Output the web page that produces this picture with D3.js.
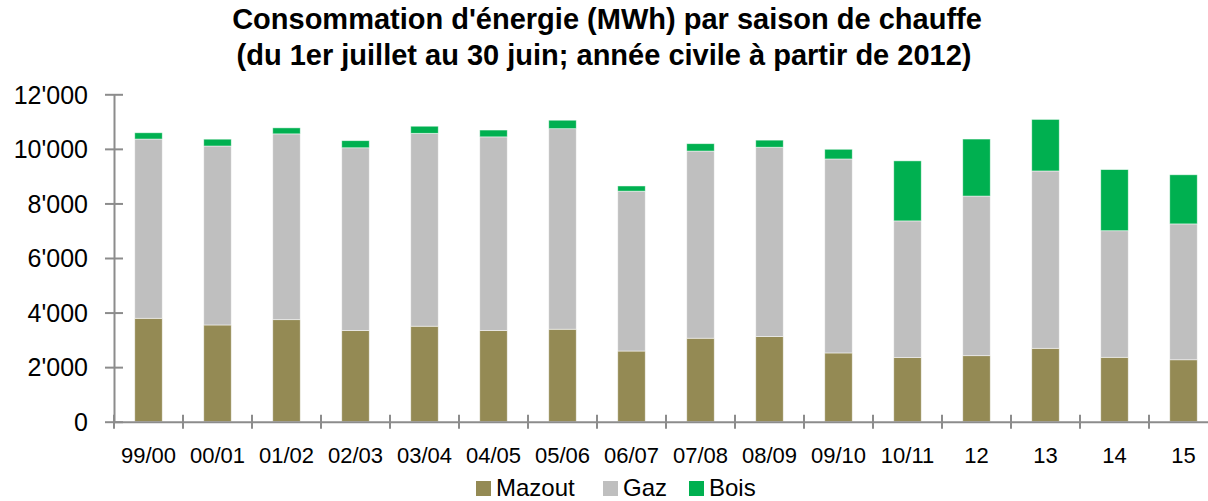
<!DOCTYPE html>
<html>
<head>
<meta charset="utf-8">
<script src="https://cdn.jsdelivr.net/npm/d3@7"></script>
<style>
  body { margin: 0; background: #fff; }
  svg { display: block; }
  text { font-family: "Liberation Sans", Arial, sans-serif; }
</style>
</head>
<body>
<svg id="chart"></svg>
<script>
// saisons de chauffe
var saisons = ["99/00", "00/01", "01/02", "02/03", "03/04", "04/05", "05/06", "06/07",
               "07/08", "08/09", "09/10", "10/11", "12", "13", "14", "15"];

// MWh par agent energetique
var mazout = [3790, 3545, 3740, 3340, 3500, 3340, 3390, 2590, 3060, 3120, 2520, 2350, 2420, 2690, 2360, 2270];
var gaz    = [6570, 6560, 6810, 6700, 7070, 7100, 7350, 5860, 6860, 6940, 7110, 5010, 5850, 6500, 4640, 4980];
var bois   = [230, 250, 220, 260, 260, 250, 310, 190, 270, 260, 355, 2200, 2090, 1890, 2240, 1800];

var yTicks = [0, 2000, 4000, 6000, 8000, 10000, 12000];
var seriesNames = ["Mazout", "Gaz", "Bois"];
var colors = ["#948a54", "#bfbfbf", "#00b050"];

var W = 1208, H = 501;
var plotL = 114, plotR = 1218, plotT = 94.3, plotB = 421.7;

var svg = d3.select("#chart").attr("width", W).attr("height", H);

// table for d3.stack
var rows = saisons.map(function(s, i) {
    return {saison: s, Mazout: mazout[i], Gaz: gaz[i], Bois: bois[i]};
});
var stacked = d3.stack().keys(seriesNames)(rows);

var x = d3.scaleBand().domain(saisons).range([plotL, plotR]);
var y = d3.scaleLinear().domain([0, 12000]).range([plotB, plotT]);
var barW = 27.5;

// title
var title = svg.append("text")
    .attr("x", 607).attr("y", 29)
    .attr("text-anchor", "middle")
    .style("font-weight", "bold").style("font-size", "29px")
    .attr("fill", "#000");
title.append("tspan").attr("x", 607).attr("dy", 0)
    .text("Consommation d'énergie (MWh) par saison de chauffe");
title.append("tspan").attr("x", 604).attr("dy", 36)
    .text("(du 1er juillet au 30 juin; année civile à partir de 2012)");

// bars
svg.append("g").selectAll("g")
    .data(stacked)
    .enter().append("g")
    .attr("fill", function(d, i) { return colors[i]; })
    .selectAll("rect")
    .data(function(d) { return d; })
    .enter().append("rect")
    .attr("x", function(d) { return x(d.data.saison) + (x.bandwidth() - barW) / 2; })
    .attr("width", barW)
    .attr("y", function(d) { return y(d[1]); })
    .attr("height", function(d) { return y(d[0]) - y(d[1]); })
    .attr("stroke", "#ffffff").attr("stroke-opacity", 0.6).attr("stroke-width", 0.8);

// y axis
var yAxis = svg.append("g")
    .attr("transform", "translate(" + plotL + ",0)")
    .call(d3.axisLeft(y).tickValues(yTicks).tickSize(0).tickPadding(26)
        .tickFormat(function(d) { return d3.format(",")(d).replace(/,/g, "'"); }));
yAxis.select(".domain").attr("stroke", "#8c8c8c").attr("stroke-width", 2);
yAxis.selectAll(".tick text").style("font-size", "25px").attr("fill", "#000").attr("dy", "0.35em");
yAxis.selectAll(".tick").append("line")
    .attr("x1", -9).attr("x2", 9).attr("stroke", "#8c8c8c").attr("stroke-width", 2);

// x axis
var xAxis = svg.append("g")
    .attr("transform", "translate(0," + plotB + ")")
    .call(d3.axisBottom(x).tickSize(0).tickPadding(26));
xAxis.select(".domain").attr("stroke", "#8c8c8c").attr("stroke-width", 2);
xAxis.selectAll(".tick text").style("font-size", "22px").attr("fill", "#000");
var edges = saisons.map(function(s) { return x(s); }).concat([plotR]);
xAxis.selectAll(".sep").data(edges).enter().append("line")
    .attr("class", "sep")
    .attr("x1", function(d) { return d; }).attr("x2", function(d) { return d; })
    .attr("y1", -7).attr("y2", 7)
    .attr("stroke", "#8c8c8c").attr("stroke-width", 2);

// legend
var legX = [476, 603, 689];
var leg = svg.append("g");
seriesNames.forEach(function(name, i) {
    leg.append("rect").attr("x", legX[i]).attr("y", 481).attr("width", 15).attr("height", 15)
        .attr("fill", colors[i]);
    leg.append("text").attr("x", legX[i] + 20).attr("y", 496)
        .style("font-size", "24px").attr("fill", "#000").text(name);
});
</script>
</body>
</html>
